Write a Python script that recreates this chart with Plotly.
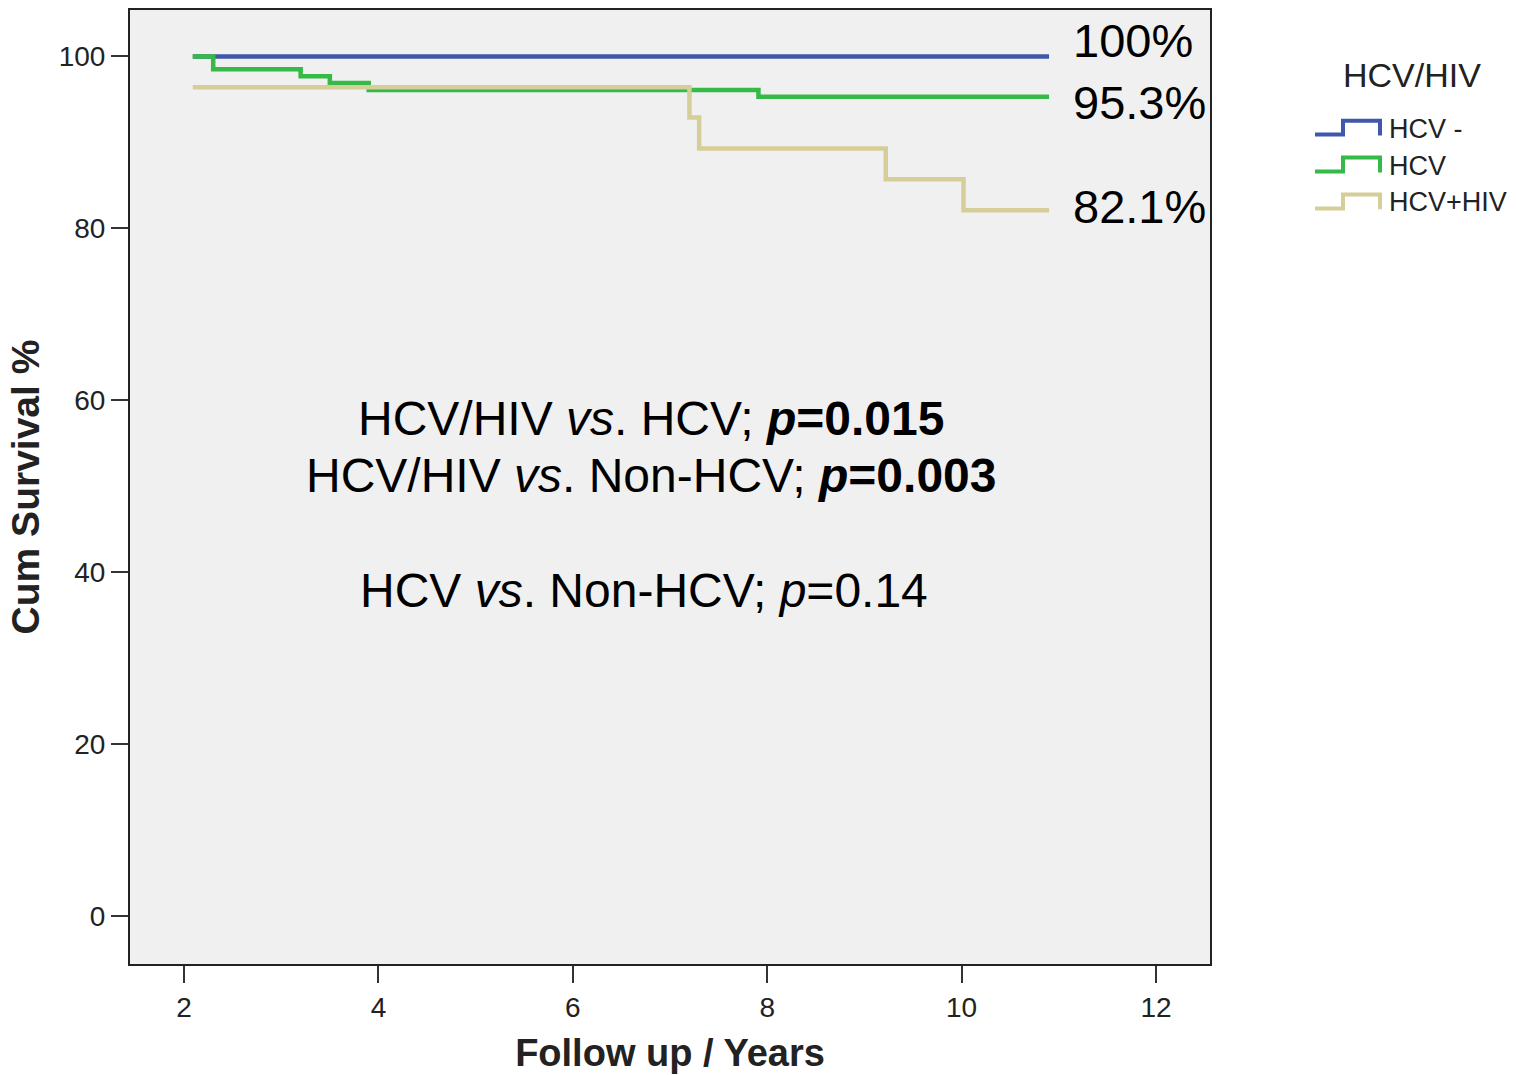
import plotly.graph_objects as go

# Kaplan-Meier step data (follow-up in years, cumulative survival in %)
years_non_hcv = [2.09, 10.9]
surv_non_hcv = [100, 100]

years_hcv = [2.09, 2.30, 3.20, 3.50, 3.90, 7.91, 10.9]
surv_hcv = [100, 98.5, 97.7, 96.9, 96.1, 95.3, 95.3]

years_coinf = [2.09, 7.20, 7.30, 9.22, 10.02, 10.9]
surv_coinf = [96.4, 92.9, 89.3, 85.7, 82.1, 82.1]

group_names = ["HCV -", "HCV", "HCV+HIV"]
end_labels = ["100%", "95.3%", "82.1%"]
legend_title = "HCV/HIV"

x_ticks = [2, 4, 6, 8, 10, 12]
y_ticks = [0, 20, 40, 60, 80, 100]

comparisons = [
    "HCV/HIV <i>vs</i>. HCV; <b><i>p</i>=0.015</b>",
    "HCV/HIV <i>vs</i>. Non-HCV; <b><i>p</i>=0.003</b>",
    "HCV <i>vs</i>. Non-HCV; <i>p</i>=0.14",
]

colors = ["#3F58AB", "#35B947", "#D5CE98"]
FONT = "Arial, Liberation Sans, sans-serif"

W, H = 1516, 1075
ML, MR, MT, MB = 130, 306, 8, 110
PW, PH = W - ML - MR, H - MT - MB


def px_x(px):
    return (px - ML) / PW


def px_y(py):
    return (H - MB - py) / PH


series = [
    (years_non_hcv, surv_non_hcv),
    (years_hcv, surv_hcv),
    (years_coinf, surv_coinf),
]

fig = go.Figure()
for (xs, ys), name, col in zip(series, group_names, colors):
    fig.add_trace(go.Scatter(
        x=xs, y=ys, mode="lines", name=name,
        line=dict(color=col, width=4.5, shape="hv"),
        showlegend=False, hoverinfo="skip",
    ))

# end-of-curve survival labels
label_shifts = [16, -6, 4]
for (xs, ys), txt, dy in zip(series, end_labels, label_shifts):
    fig.add_annotation(
        x=xs[-1], y=ys[-1], text=txt, showarrow=False,
        xanchor="left", yanchor="middle", xshift=22, yshift=dy,
        font=dict(family=FONT, size=47, color="#000"),
    )

# log-rank comparison text
comp_pos = [(6.80, 57.9), (6.80, 51.2), (6.73, 37.9)]
for txt, (cx, cy) in zip(comparisons, comp_pos):
    fig.add_annotation(
        x=cx, y=cy, text=txt, showarrow=False,
        xanchor="center", yanchor="middle",
        font=dict(family=FONT, size=48, color="#000"),
    )

# legend drawn with step-shaped keys
fig.add_annotation(
    xref="paper", yref="paper", x=px_x(1412), y=px_y(73), text=legend_title,
    showarrow=False, xanchor="center", yanchor="middle",
    font=dict(family=FONT, size=34, color="#222"),
)
legend_rows = [127, 164, 201]
for name, col, row in zip(group_names, colors, legend_rows):
    path = (f"M {px_x(1315)} {px_y(row + 6)} L {px_x(1343)} {px_y(row + 6)} "
            f"L {px_x(1343)} {px_y(row - 8)} L {px_x(1380)} {px_y(row - 8)} "
            f"L {px_x(1380)} {px_y(row + 7)}")
    fig.add_shape(type="path", path=path, xref="paper", yref="paper",
                  line=dict(color=col, width=4))
    fig.add_annotation(
        xref="paper", yref="paper", x=px_x(1387), y=px_y(row), text=name,
        showarrow=False, xanchor="left", yanchor="middle",
        font=dict(family=FONT, size=27, color="#222"),
    )

axis_common = dict(
    showline=True, mirror=True, linecolor="#222", linewidth=2,
    showgrid=False, zeroline=False,
    ticks="outside", ticklen=17, tickwidth=2, tickcolor="#333",
    tickfont=dict(family=FONT, size=28, color="#222"),
)

fig.update_xaxes(
    range=[1.444, 12.556], tickvals=x_ticks,
    title=dict(text="<b>Follow up / Years</b>", standoff=18,
               font=dict(family=FONT, size=38, color="#222")),
    **axis_common,
)
fig.update_yaxes(
    range=[-5.57, 105.4], tickvals=y_ticks,
    title=dict(text="<b>Cum Survival %</b>", standoff=7,
               font=dict(family=FONT, size=39, color="#222")),
    **axis_common,
)

fig.update_layout(
    width=W, height=H,
    margin=dict(l=ML, r=MR, t=MT, b=MB),
    plot_bgcolor="#F0F0F0", paper_bgcolor="#FFFFFF",
    showlegend=False,
)

fig.write_html("out.html")
